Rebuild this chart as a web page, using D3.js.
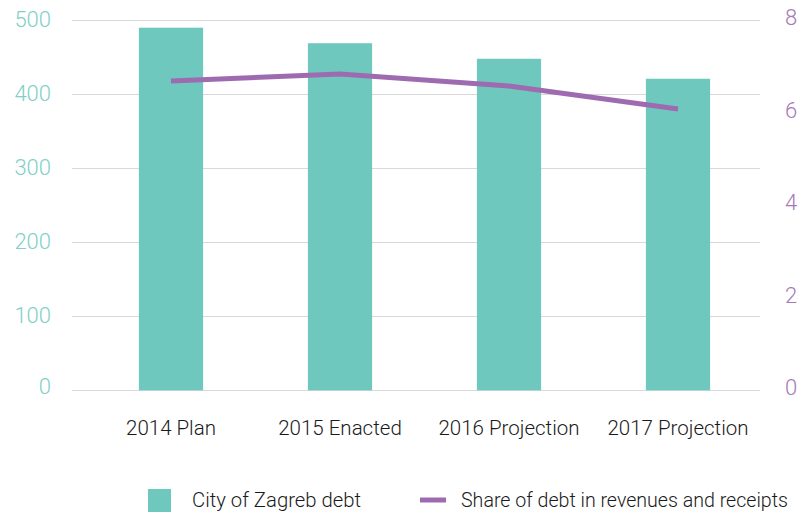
<!DOCTYPE html>
<html>
<head>
<meta charset="utf-8">
<script src="https://cdn.jsdelivr.net/npm/d3@7"></script>
<style>
  body { margin: 0; background: #fff; }
  svg text { font-family: Roboto, "Open Sans", sans-serif; }
</style>
</head>
<body>
<svg width="801" height="513"></svg>
<script>
// data
const categories = ["2014 Plan", "2015 Enacted", "2016 Projection", "2017 Projection"]
const debt = [490, 469, 448, 421]
const share = [6.69, 6.84, 6.58, 6.08]
const leftTicks = [0, 100, 200, 300, 400, 500]
const rightTicks = [0, 2, 4, 6, 8]
const legendLabels = ["City of Zagreb debt", "Share of debt in revenues and receipts"]

const teal = "#6ec8bd"
const purple = "#9e6bb0"

let svg = d3.select("svg")

let x = d3.scaleBand()
  .domain(categories)
  .range([86.5, 762.5])
  .paddingInner(0.62)
  .paddingOuter(0.31)

let yL = d3.scaleLinear().domain([0, 500]).range([390.3, 20.3])
let yR = d3.scaleLinear().domain([0, 8]).range([390.3, 20.3])

// gridlines
svg.append("g")
  .selectAll("line")
  .data(leftTicks)
  .join("line")
  .attr("x1", 72)
  .attr("x2", 760)
  .attr("y1", d => Math.round(yL(d)) + 0.5)
  .attr("y2", d => Math.round(yL(d)) + 0.5)
  .attr("stroke", "#d9d9d9")
  .attr("stroke-width", 1)

// left axis
let leftAxis = d3.axisLeft(yL).tickValues(leftTicks).tickSize(0).tickPadding(0)
let gl = svg.append("g").attr("transform", "translate(51,0)").call(leftAxis)
gl.select(".domain").remove()
gl.selectAll("text")
  .attr("font-size", "22px")
  .attr("font-weight", 300)
  .attr("fill", "#80d0c6")
  .attr("dy", d => d == 0 ? "0.15em" : "0.3em")

// right axis
let rightAxis = d3.axisRight(yR).tickValues(rightTicks).tickSize(0).tickPadding(0)
let gr = svg.append("g").attr("transform", "translate(785,0)").call(rightAxis)
gr.select(".domain").remove()
gr.selectAll("text")
  .attr("font-size", "22px")
  .attr("font-weight", 300)
  .attr("fill", "#a679b8")
  .attr("dy", "0.2em")

// bars
svg.append("g")
  .selectAll("rect")
  .data(debt)
  .join("rect")
  .attr("x", (d, i) => x(categories[i]))
  .attr("width", x.bandwidth())
  .attr("y", d => yL(d))
  .attr("height", d => yL(0) - yL(d))
  .attr("fill", teal)

// line
let line = d3.line()
  .x((d, i) => x(categories[i]) + x.bandwidth() / 2)
  .y(d => yR(d))

svg.append("path")
  .datum(share)
  .attr("d", line)
  .attr("fill", "none")
  .attr("stroke", purple)
  .attr("stroke-width", 5)

// category labels
let xAxis = d3.axisBottom(x).tickSize(0).tickPadding(0)
let gx = svg.append("g").attr("transform", "translate(0,435)").call(xAxis)
gx.select(".domain").remove()
gx.selectAll("text")
  .attr("dy", 0)
  .attr("font-size", "20.5px")
  .attr("font-weight", 300)
  .attr("fill", "#1a1a1a")

// legend
let leg = svg.append("g")
leg.append("rect")
  .attr("x", 148).attr("y", 489)
  .attr("width", 23).attr("height", 23)
  .attr("fill", teal)
leg.append("text")
  .attr("x", 192).attr("y", 507)
  .attr("font-size", "20px")
  .attr("font-weight", 300)
  .attr("fill", "#1a1a1a")
  .attr("textLength", 169)
  .attr("lengthAdjust", "spacingAndGlyphs")
  .text(legendLabels[0])
leg.append("line")
  .attr("x1", 420).attr("x2", 446)
  .attr("y1", 500).attr("y2", 500)
  .attr("stroke", purple)
  .attr("stroke-width", 5)
leg.append("text")
  .attr("x", 461).attr("y", 507)
  .attr("font-size", "20px")
  .attr("font-weight", 300)
  .attr("fill", "#1a1a1a")
  .attr("textLength", 327)
  .attr("lengthAdjust", "spacingAndGlyphs")
  .text(legendLabels[1])
</script>
</body>
</html>
